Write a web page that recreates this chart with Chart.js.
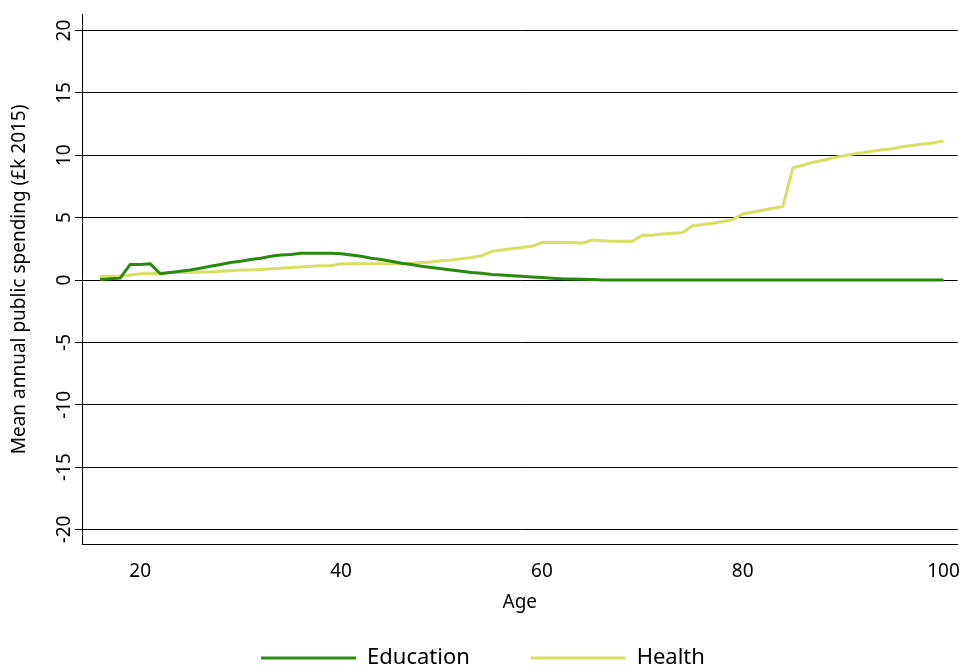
<!DOCTYPE html>
<html lang="en">
<head>
  <meta charset="UTF-8" />
  <title>Public spending by age</title>
  <script src="https://cdn.jsdelivr.net/npm/chart.js"></script>
  <style>
    body { margin: 0; background: #fff; }
    #wrap { width: 968px; height: 670px; }
  </style>
</head>
<body>
  <div id="wrap"><canvas id="chart"></canvas></div>
  <script>
    const ages = [];
    for (let a = 16; a <= 100; a++) ages.push(a);

    const education = [0.05,0.1,0.15,1.25,1.25,1.3,0.5,0.6,0.7,0.8,0.95,1.1,1.25,1.4,1.5,1.65,1.75,1.9,2.0,2.05,
      2.15,2.15,2.15,2.15,2.1,2.0,1.9,1.75,1.65,1.5,1.35,1.25,1.1,1.0,0.9,0.8,0.7,0.6,0.55,0.45,
      0.4,0.35,0.3,0.25,0.2,0.15,0.1,0.08,0.06,0.05,
      0,0,0,0,0,0,0,0,0,0,0,0,0,0,0,0,0,0,0,0,0,0,0,0,0,0,0,0,0,0,0,0,0,0,0];
    const health = [0.3,0.3,0.3,0.4,0.5,0.5,0.55,0.6,0.6,0.6,0.65,0.65,0.7,0.75,0.8,0.8,0.85,0.9,0.95,1.0,
      1.05,1.1,1.15,1.15,1.3,1.3,1.3,1.3,1.3,1.3,1.35,1.35,1.4,1.45,1.55,1.6,1.7,1.8,1.95,2.3,
      2.4,2.5,2.6,2.7,3.0,3.0,3.0,3.0,2.95,3.2,3.15,3.1,3.1,3.1,3.6,3.6,3.7,3.75,3.8,4.35,
      4.45,4.55,4.7,4.85,5.3,5.45,5.6,5.75,5.9,9.0,9.2,9.45,9.6,9.8,9.95,10.1,10.2,10.35,10.45,10.55,
      10.7,10.8,10.9,11.0,11.15];
    const xTicks = [20, 40, 60, 80, 100];
    const yTicks = [-20, -15, -10, -5, 0, 5, 10, 15, 20];

    const font = "'Noto Sans', sans-serif";

    const rotatedYLabels = {
      id: 'rotatedYLabels',
      afterDraw(chart) {
        const ctx = chart.ctx, y = chart.scales.y;
        ctx.save();
        ctx.fillStyle = '#000';
        ctx.font = '19px ' + font;
        ctx.textAlign = 'center';
        ctx.textBaseline = 'bottom';
        yTicks.forEach(v => {
          ctx.save();
          ctx.translate(y.right - 8, y.getPixelForValue(v));
          ctx.rotate(-Math.PI / 2);
          ctx.fillText(String(v), 0, 0);
          ctx.restore();
        });
        ctx.restore();
      }
    };

    new Chart(document.getElementById('chart'), {
      type: 'line',
      data: {
        datasets: [
          { label: 'Education', data: ages.map((a, i) => ({ x: a, y: education[i] })),
            borderColor: '#2a8a10', backgroundColor: '#2a8a10', borderWidth: 3, pointRadius: 0, tension: 0 },
          { label: 'Health', data: ages.map((a, i) => ({ x: a, y: health[i] })),
            borderColor: '#d7e063', backgroundColor: '#d7e063', borderWidth: 3, pointRadius: 0, tension: 0 }
        ]
      },
      options: {
        responsive: true,
        maintainAspectRatio: false,
        animation: false,
        layout: { padding: { top: 4, right: 10, left: 8, bottom: -9 } },
        plugins: {
          legend: {
            position: 'bottom',
            labels: {
              font: { family: font, size: 22 }, color: '#000',
              boxWidth: 95, boxHeight: 3, padding: 15,
              generateLabels: chart => chart.data.datasets.map((d, i) => ({
                text: i === 0 ? d.label + '        ' : d.label,
                fillStyle: d.borderColor, strokeStyle: d.borderColor, lineWidth: 0,
                fontColor: '#000', datasetIndex: i, hidden: false
              }))
            }
          },
          tooltip: { enabled: false }
        },
        scales: {
          x: {
            type: 'linear', min: 14.2, max: 101.4,
            afterBuildTicks: s => { s.ticks = xTicks.map(v => ({ value: v })); },
            grid: { display: false, drawTicks: true },
            border: { color: '#000', width: 1 },
            ticks: { color: '#000', font: { family: font, size: 19 }, padding: 8 },
            title: { display: true, text: 'Age', color: '#000', font: { family: font, size: 19 }, padding: { top: 0, bottom: 18 } }
          },
          y: {
            min: -21.2, max: 21.3,
            afterBuildTicks: s => { s.ticks = yTicks.map(v => ({ value: v })); },
            afterFit: s => { s.width = 74; },
            grid: { color: '#000', lineWidth: 1, drawTicks: true, tickLength: 7, tickColor: '#000' },
            border: { color: '#000', width: 1 },
            ticks: { color: 'rgba(0,0,0,0)', font: { family: font, size: 19 } },
            title: { display: true, text: 'Mean annual public spending (£k 2015)', color: '#000', font: { family: font, size: 19 }, padding: 0 }
          }
        }
      },
      plugins: [rotatedYLabels]
    });
  </script>
</body>
</html>
